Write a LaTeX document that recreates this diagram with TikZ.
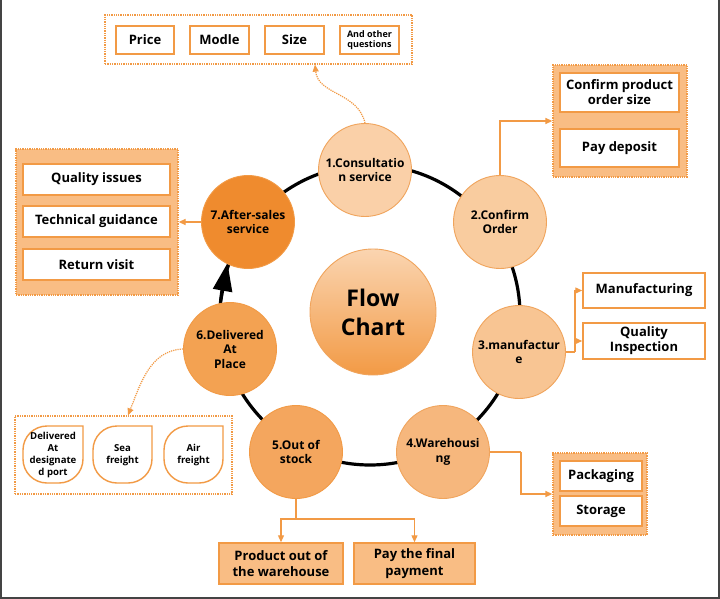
\documentclass[tikz,border=0pt]{standalone}
\usepackage{fontspec}
\setmainfont{Open Sans}
\usetikzlibrary{arrows.meta}
\definecolor{orng}{HTML}{F29A45}
\definecolor{peach}{HTML}{F9BD84}
\definecolor{cbA}{HTML}{F0A45C}
\definecolor{cone}{HTML}{FAD0A8}
\definecolor{ctwo}{HTML}{F9CC9F}
\definecolor{cthree}{HTML}{F8C593}
\definecolor{cfour}{HTML}{F6B77D}
\definecolor{cfive}{HTML}{F4A65E}
\definecolor{csix}{HTML}{F3A252}
\definecolor{cseven}{HTML}{EF8B2E}
\definecolor{framegray}{HTML}{444444}
\tikzset{
  circnode/.style={circle, draw=cbA, line width=0.9pt, minimum size=93pt, inner sep=0pt, align=center,
    font=\bfseries\fontsize{12}{14.5}\selectfont},
  wbox/.style={draw=orng, line width=1.5pt, fill=white, align=center, inner sep=0pt,
    font=\bfseries\fontsize{13}{15}\selectfont},
  pbox/.style={draw=orng, line width=1.5pt, fill=peach, align=center, inner sep=0pt,
    font=\bfseries\fontsize{13}{16.5}\selectfont},
  grpfill/.style={draw=orng, densely dotted, line width=1.3pt, fill=peach, inner sep=0pt},
  grpopen/.style={draw=orng, densely dotted, line width=1.3pt, fill=none, inner sep=0pt},
  conn/.style={draw=orng, line width=1.3pt, -{Triangle[length=7pt,width=6pt]}},
  dconn/.style={draw=orng, densely dotted, line width=1.2pt, -{Triangle[length=7pt,width=6pt]}},
  ringline/.style={draw=black, line width=3.2pt},
  droptext/.style={align=center, inner sep=0pt, font=\bfseries\fontsize{9.6}{11.8}\selectfont},
  dropline/.style={draw=orng, line width=1.4pt, fill=white}
}
\begin{document}
\begin{tikzpicture}[x=1pt,y=-1pt]
\useasboundingbox (0,0) rectangle (720,599);
\fill[white] (0,0) rectangle (720,599);
% frame
\draw[framegray, line width=2pt] (1,0) -- (1,598) -- (719,598) -- (719,0);

% ring
\draw[ringline] (370,315) circle (150);
\coordinate (ra) at (220.5,302);
\coordinate (rb) at (227.5,263);
\draw[ringline, -{Triangle[length=28pt,width=19pt]}] (ra) -- (rb);

% central node
\node[circle, draw=cbA, line width=0.9pt, minimum size=126pt, inner sep=0pt, top color=cone!90!white, bottom color=orng, align=center,
  font=\bfseries\fontsize{23}{29}\selectfont] (flow) at (373,312) {Flow\\Chart};

% step circles
\node[circnode, fill=cone] (n1) at (365,170) {1.Consultatio\\n service};
\node[circnode, fill=ctwo] (n2) at (500,222) {2.Confirm\\Order};
\node[circnode, fill=cthree] (n3) at (519,352) {3.manufactur\\e};
\node[circnode, fill=cfour] (n4) at (443,452) {4.Warehousi\\ng};
\node[circnode, fill=cfive, draw=orng] (n5) at (296,452) {5.Out of\\stock};
\node[circnode, fill=csix, draw=orng] (n6) at (230,349) {6.Delivered\\At\\Place};
\node[circnode, fill=cseven, draw=orng] (n7) at (248,222) {7.After-sales\\service};

% top group
\node[grpopen, minimum width=307pt, minimum height=49pt] (topgrp) at (258.5,39.5) {};
\node[wbox, minimum width=58pt, minimum height=28pt] (price) at (145,40) {Price};
\node[wbox, minimum width=59pt, minimum height=28pt] (modle) at (219.5,40) {Modle};
\node[wbox, minimum width=59pt, minimum height=28pt] (size) at (294.5,40) {Size};
\node[wbox, minimum width=59pt, minimum height=28pt, font=\bfseries\fontsize{9}{10.5}\selectfont] (other) at (369.5,40) {And other\\questions};
\draw[dconn] (n1.north) .. controls (358,92) and (318,95) .. ([xshift=56.5pt]topgrp.south);

% top-right group
\node[grpfill, minimum width=134pt, minimum height=112pt] (grpTR) at (620,121) {};
\node[wbox, minimum width=119pt, minimum height=39pt] (cps) at (619.5,92.5) {Confirm product\\order size};
\node[wbox, minimum width=119pt, minimum height=38pt] (pdep) at (619.5,148) {Pay deposit};
\draw[conn] (n2.north) |- (grpTR.west);

% left group
\node[grpfill, minimum width=162pt, minimum height=146pt] (grpL) at (97,222) {};
\node[wbox, minimum width=147pt, minimum height=31pt] (qi1) at (96.5,179.5) {Quality issues};
\node[wbox, minimum width=147pt, minimum height=31pt] (tg) at (96.5,221.5) {Technical guidance};
\node[wbox, minimum width=147pt, minimum height=31pt] (rv) at (96.5,264.5) {Return visit};
\draw[conn] (n7.west) -- (grpL.east);

% manufacture branch
\node[wbox, minimum width=122pt, minimum height=35pt] (mf) at (644,290.5) {Manufacturing};
\node[wbox, minimum width=122pt, minimum height=36pt] (qinsp) at (644,341) {Quality\\Inspection};
\coordinate (f3) at (575,352);
\draw[draw=orng, line width=1.3pt] (n3.east) -- (f3);
\draw[conn] (f3) |- (mf.west);
\draw[conn] (f3) |- (qinsp.west);

% warehousing group
\node[grpfill, minimum width=94pt, minimum height=82pt] (grpW) at (600,494) {};
\node[wbox, minimum width=82pt, minimum height=30pt] (pack) at (601,476) {Packaging};
\node[wbox, minimum width=82pt, minimum height=30pt] (stor) at (601,511) {Storage};
\coordinate (f4) at (521,452);
\draw[draw=orng, line width=1.3pt] (n4.east) -- (f4);
\draw[conn] (f4) |- (grpW.west);

% out of stock branch
\node[pbox, minimum width=124pt, minimum height=41pt] (prod) at (281,563.5) {Product out of\\the warehouse};
\node[pbox, minimum width=121pt, minimum height=41pt] (pay) at (414.5,563.5) {Pay the final\\payment};
\coordinate (f5) at (296,519);
\draw[draw=orng, line width=1.3pt] (n5.south) -- (f5);
\draw[conn] (f5) -| (prod.north);
\draw[conn] (f5) -| (pay.north);

% delivery group
\node[grpopen, minimum width=217pt, minimum height=78pt] (dropgrp) at (123.5,455) {};
\draw[dropline] (83,426) -- (83,459) arc (0:90:24) -- (47,483) arc (90:180:24) -- (23,450) arc (180:270:24) -- cycle;
\draw[dropline] (152,426) -- (152,459) arc (0:90:24) -- (117,483) arc (90:180:24) -- (93,450) arc (180:270:24) -- cycle;
\draw[dropline] (223,426) -- (223,459) arc (0:90:24) -- (188,483) arc (90:180:24) -- (164,450) arc (180:270:24) -- cycle;
\node[droptext] (d1) at (53,455) {Delivered\\At\\designate\\d port};
\node[droptext] (d2) at (122.5,455) {Sea\\freight};
\node[droptext] (d3) at (193.5,455) {Air\\freight};
\draw[dconn] (n6.west) .. controls (150,350) and (140,385) .. ([xshift=4.5pt]dropgrp.north);
\end{tikzpicture}
\end{document}
